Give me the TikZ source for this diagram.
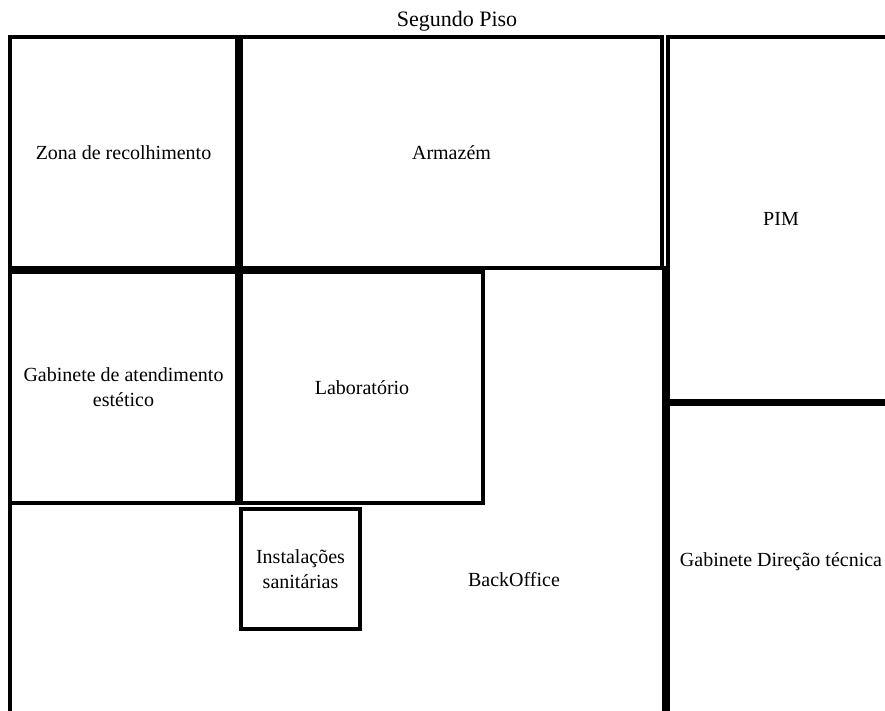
\documentclass[tikz,border=0pt]{standalone}
\usepackage{fontspec}
\setmainfont{Liberation Serif}
\usetikzlibrary{positioning}

\begin{document}
\begin{tikzpicture}[x=1pt,y=-1pt]
    \tikzset{room/.style={
      draw,
      rectangle,
      line width=3.7pt,
      fill=white,
      align=center,
      inner sep=0pt,
      font=\fontsize{20}{25}\selectfont
    }};

    \path[use as bounding box,clip] (0,0) rectangle (885,711);

    \node [font=\fontsize{22}{26}\selectfont] (title) at (457,21) {Segundo Piso};

    \node [room, minimum width=654pt, minimum height=457pt] (backoffice) at (337,496.5) {};
    \node [font=\fontsize{20}{25}\selectfont] (backofficetext) at (514,580) {BackOffice};

    \node [room, minimum width=227pt, minimum height=231pt] (zona) at (123.5,152.5) {Zona de recolhimento};
    \node [room, minimum width=227pt, minimum height=231pt] (gabinete) at (123.5,387.5) {Gabinete de atendimento\\estético};
    \node [room, minimum width=421pt, minimum height=231pt] (armazem) at (451.5,152.5) {Armazém};
    \node [room, minimum width=242pt, minimum height=231pt] (lab) at (362,387.5) {Laboratório};
    \node [room, minimum width=119pt, minimum height=120pt] (sanitarias) at (300.5,569) {Instalações\\sanitárias};
    \node [room, minimum width=226pt, minimum height=364pt] (pim) at (781,219) {PIM};
    \node [room, minimum width=226pt, minimum height=316pt] (direcao) at (781,562) {Gabinete Direção técnica};

  \end{tikzpicture}
\end{document}
